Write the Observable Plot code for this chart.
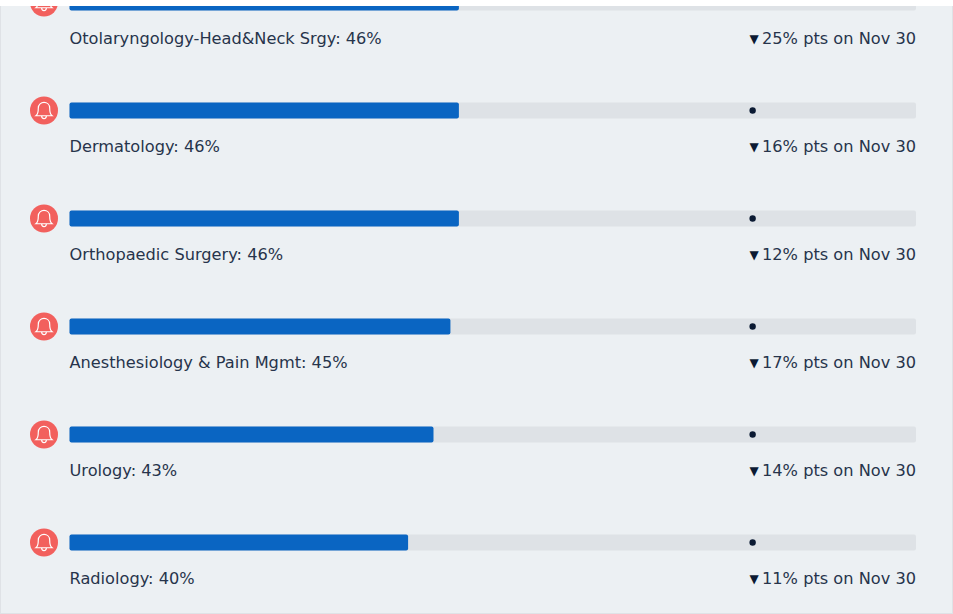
<!DOCTYPE html>
<html>
<head>
<meta charset="utf-8">
<script src="https://cdn.jsdelivr.net/npm/d3@7"></script>
<script src="https://cdn.jsdelivr.net/npm/@observablehq/plot@0.6"></script>
<style>
html,body{margin:0;padding:0;background:#fff;overflow:hidden}
#panel{position:absolute;left:0;top:6px;width:953px;height:608px;box-sizing:border-box;border-left:1px solid #dfe2e6;border-right:1px solid #dfe2e6;border-bottom:1px solid #dfe2e6;background:#ecf0f3;overflow:hidden}
</style>
</head>
<body>
<div id="panel"></div>
<script>
const specialties = ["Otolaryngology-Head&Neck Srgy","Dermatology","Orthopaedic Surgery","Anesthesiology & Pain Mgmt","Urology","Radiology"];
const values = [46,46,46,45,43,40];
const changes = [25,16,12,17,14,11];
const targets = [80.7,80.7,80.7,80.7,80.7,80.7];
const changeDate = "Nov 30";
const rows = specialties.map((name,i)=>({name,value:values[i],change:changes[i],target:targets[i]}));

const bell = {draw(c,size){
  const s=Math.sqrt(size/Math.PI)/10;
  const p=(x,y)=>[x*s,y*s];
  c.moveTo(...p(-8.5,5.5));
  c.bezierCurveTo(...p(-6,3.5),...p(-6,0),...p(-6,-2.5));
  c.bezierCurveTo(...p(-6,-10.5),...p(6,-10.5),...p(6,-2.5));
  c.bezierCurveTo(...p(6,0),...p(6,3.5),...p(8.5,5.5));
  c.closePath();
  c.moveTo(...p(-2.5,5.5));
  c.bezierCurveTo(...p(-2.5,9.5),...p(2.5,9.5),...p(2.5,5.5));
}};

const chart = Plot.plot({
  width:951,height:607,
  marginTop:0,marginRight:0,marginBottom:0,marginLeft:0,
  style:{background:"transparent",fontFamily:"'DejaVu Sans'",display:"block",maxWidth:"none"},
  x:{domain:[0,100],range:[68.5,915],axis:null},
  y:{type:"band",domain:specialties,range:[-57.5,590.5],padding:0,round:false,axis:null},
  marks:[
    Plot.barX(rows,{x1:0,x2:100,y:"name",fill:"#dee2e6",insetTop:46,insetBottom:46,rx:2}),
    Plot.barX(rows,{x1:0,x2:"value",y:"name",fill:"#0a65c2",insetTop:46,insetBottom:46,rx:2}),
    Plot.dot(rows,{x:"target",y:"name",dy:-0.5,dx:-0.5,r:3.2,fill:"#0b1a33"}),
    Plot.dot(rows,{y:"name",frameAnchor:"left",dx:42.5,dy:-0.5,r:14,fill:"#f2605d"}),
    Plot.dot(rows,{y:"name",frameAnchor:"left",dx:42.5,dy:-0.5,r:9.5,symbol:bell,fill:"none",stroke:"#fff",strokeWidth:1.2}),
    Plot.text(rows,{x:0,y:"name",text:d=>`${d.name}: ${d.value}%`,textAnchor:"start",dx:-0.5,dy:36,fontSize:16.2,fill:"#27344b"}),
    Plot.text(rows,{x:100,y:"name",text:d=>`${d.change}% pts on ${changeDate}`,textAnchor:"end",dx:-0.5,dy:36,fontSize:16.2,fill:"#27344b"}),
    Plot.text(rows,{x:"target",y:"name",text:()=>"▼",textAnchor:"middle",dx:1,dy:36,fontSize:12,fill:"#0b1a33"})
  ]
});
document.getElementById("panel").appendChild(chart);
</script>
</body>
</html>
